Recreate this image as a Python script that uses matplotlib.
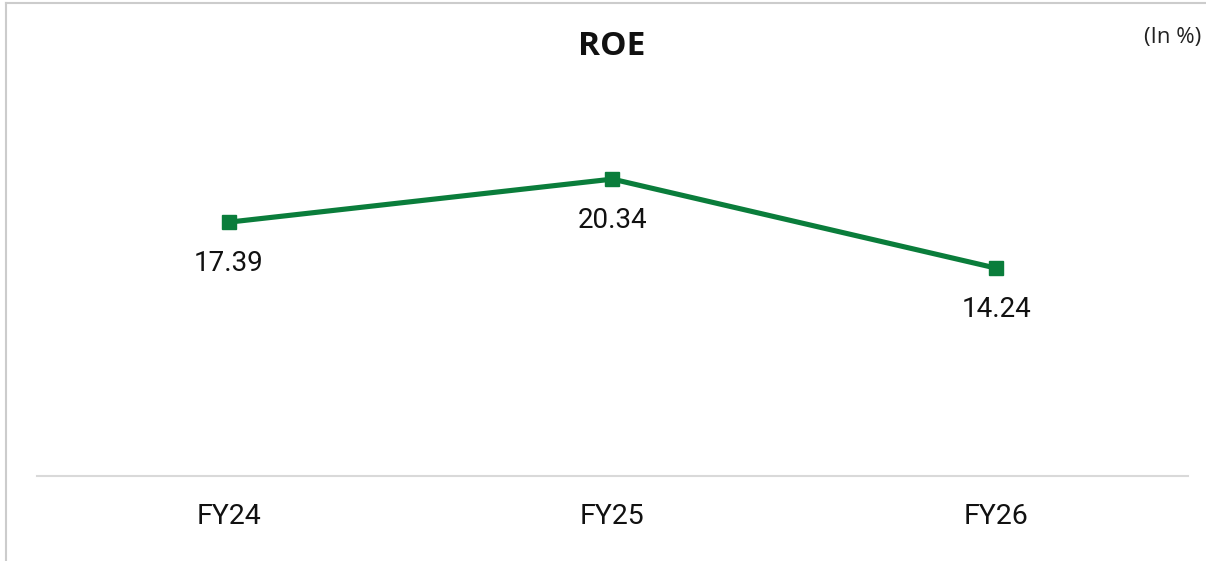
import matplotlib
matplotlib.use('Agg')
from matplotlib import pyplot as plt
from matplotlib.lines import Line2D

years = ['FY24', 'FY25', 'FY26']
roe = [17.39, 20.34, 14.24]
roe_labels = ['17.39', '20.34', '14.24']

green = '#0a7d3b'

fig = plt.figure(figsize=(12.06, 5.61), dpi=100)
ax = fig.add_axes([0.0307, 0.1515, 0.9543, 0.6505])

x = list(range(len(years)))
ax.plot(x, roe, color=green, linewidth=3.7, marker='s', markersize=10.5,
        markerfacecolor=green, markeredgecolor=green)

for i in range(len(years)):
    ax.annotate(roe_labels[i], (x[i], roe[i]), xytext=(0, -29.5),
                textcoords='offset points', ha='center', va='center',
                fontsize=20, family='Roboto', color='#111111')

ax.set_xlim(-0.5, 2.5)
ax.set_ylim(0, 25)
ax.set_xticks(x)
ax.set_xticklabels(years, fontsize=20.5, family='Roboto', color='#111111')
ax.tick_params(axis='x', length=0, pad=19.5)
ax.set_yticks([])
for s in ['top', 'right', 'left']:
    ax.spines[s].set_visible(False)
ax.spines['bottom'].set_color('#d9d9d9')
ax.spines['bottom'].set_linewidth(1.5)

fig.text(0.5075, 0.918, 'ROE', ha='center', va='center', fontsize=24,
         fontweight='bold', family='Open Sans', color='#111111')
fig.text(0.996, 0.934, '(In %)', ha='right', va='center', fontsize=16,
         family='Open Sans', color='#222222')

# frame lines on top and left edge
fig.add_artist(Line2D([6 / 1206, 6 / 1206], [0, 1 - 3 / 561], color='#cccccc', linewidth=1.5))
fig.add_artist(Line2D([6 / 1206, 1], [1 - 3 / 561, 1 - 3 / 561], color='#cccccc', linewidth=1.5))

fig.savefig('out.png', dpi=100)
